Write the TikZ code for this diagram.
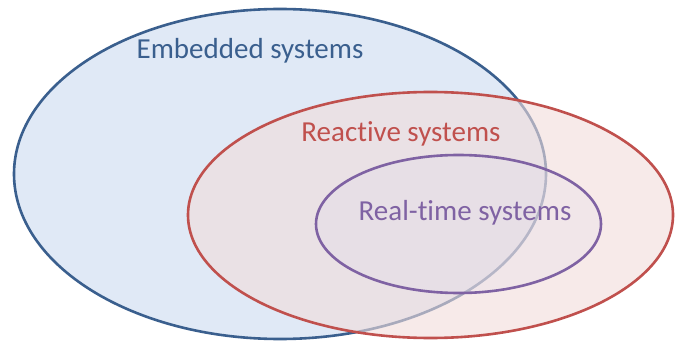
\documentclass[tikz,border=0pt]{standalone}
\usepackage{fontspec}
\setmainfont[Ligatures=NoCommon]{Carlito}
\definecolor{bluestroke}{HTML}{3A5F8E}
\definecolor{bluefill}{HTML}{E0E9F6}
\definecolor{redstroke}{HTML}{C0504D}
\definecolor{redfill}{HTML}{F2DCDB}
\definecolor{purplestroke}{HTML}{7F62A3}
\definecolor{purplefill}{HTML}{E2DCEB}
\tikzset{
  setbox/.style={line width=2.6pt},
  lbl/.style={anchor=base, inner sep=0pt, font=\fontsize{29}{31}\selectfont}
}
\begin{document}
\begin{tikzpicture}[x=1pt,y=-1pt]
\useasboundingbox (0,0) rectangle (675,342);
\fill[white] (0,0) rectangle (675,342);
\draw[setbox, draw=bluestroke, fill=bluefill] (280,174) ellipse [x radius=266, y radius=165];
\draw[setbox, draw=redstroke, fill=redfill, fill opacity=0.6] (430.5,215) ellipse [x radius=242.5, y radius=123];
\draw[setbox, draw=purplestroke, fill=purplefill, fill opacity=0.25] (458.5,224) ellipse [x radius=142.5, y radius=69];
\node[lbl, text=bluestroke] (emb) at (250,59) {Embedded systems};
\node[lbl, text=redstroke] (rea) at (401,141.5) {Reactive systems};
\node[lbl, text=purplestroke] (rt) at (465,220) {Real-time systems};
\end{tikzpicture}
\end{document}
